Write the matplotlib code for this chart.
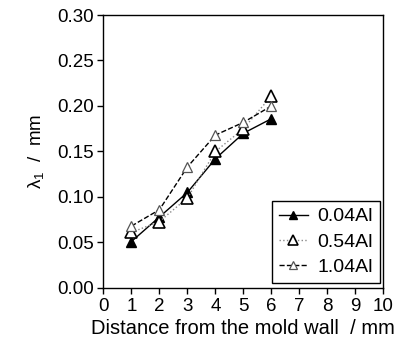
import matplotlib
matplotlib.use('Agg')
import matplotlib.pyplot as plt

plt.rcParams['font.family'] = ['Liberation Sans', 'DejaVu Sans']
plt.rcParams['mathtext.fontset'] = 'custom'
plt.rcParams['mathtext.rm'] = 'Liberation Sans'
plt.rcParams['mathtext.it'] = 'Liberation Sans'

# distance from the mold wall (mm)
dist = [1, 2, 3, 4, 5, 6]
# lambda_1 (mm) for each alloy
al004 = [0.051, 0.078, 0.105, 0.142, 0.170, 0.186]
al054 = [0.061, 0.073, 0.099, 0.150, 0.175, 0.211]
al104 = [0.068, 0.086, 0.133, 0.168, 0.182, 0.200]

xticks = list(range(0, 11))
yticks = [0.00, 0.05, 0.10, 0.15, 0.20, 0.25, 0.30]

fig = plt.figure(figsize=(4.01, 3.49), dpi=100)
ax = fig.add_axes([0.258, 0.175, 0.698, 0.782])

ax.plot(dist, al004, '-', color='black', lw=1.0, marker='^', ms=7.5,
        mfc='black', mec='black', label='0.04Al')
ax.plot(dist, al054, ':', color='#888888', lw=1.0, marker='^', ms=8.5,
        mfc='white', mec='black', mew=1.2, label='0.54Al')
ax.plot(dist, al104, '--', color='black', lw=1.0, marker='^', ms=7.5,
        mfc='white', mec='#555555', mew=0.9, label='1.04Al')

ax.set_xlim(0, 10)
ax.set_ylim(0, 0.30)
ax.set_xticks(xticks)
ax.set_yticks(yticks)
ax.set_yticklabels(['%.2f' % v for v in yticks])
ax.tick_params(direction='out', length=4, width=1, labelsize=13.5, pad=3)
for s in ax.spines.values():
    s.set_linewidth(1.0)

ax.set_xlabel('Distance from the mold wall  / mm', fontsize=14.5, labelpad=3)
ax.set_ylabel(r'$\lambda_{1}$  /  mm', fontsize=13.5, labelpad=8)

leg = ax.legend(loc='lower right', bbox_to_anchor=(0.988, 0.018),
                borderaxespad=0, fancybox=False, edgecolor='black',
                fontsize=14, handlelength=1.5, handletextpad=0.5,
                borderpad=0.35, labelspacing=0.4, framealpha=1,
                markerscale=0.85)
leg.get_frame().set_linewidth(1.0)

fig.savefig('out.png', dpi=100)
